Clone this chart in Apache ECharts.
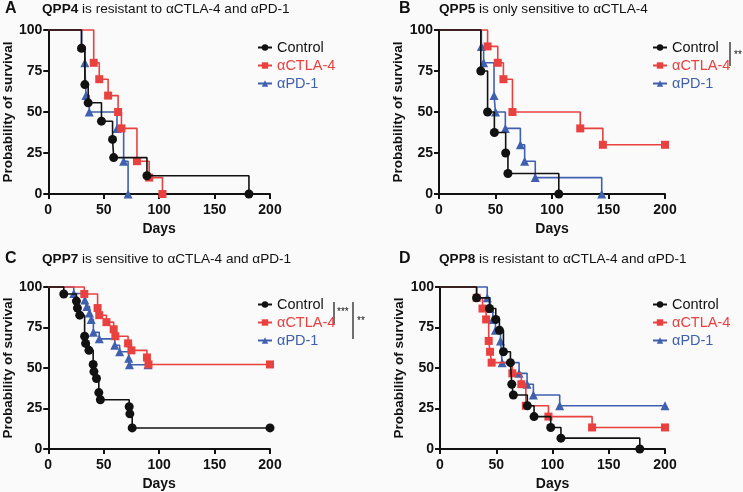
<!DOCTYPE html>
<html><head><meta charset="utf-8">
<script src="https://cdn.jsdelivr.net/npm/echarts@6/dist/echarts.min.js"></script>
<style>html,body{margin:0;padding:0;background:#fafafa}#c{width:743px;height:492px}</style>
</head><body><div id="c"></div>
<script>
// ---- data (days, survival %) ----
const xTicks = [0, 50, 100, 150, 200];
const yTicks = [0, 25, 50, 75, 100];
const groupNames = ['Control', 'αCTLA-4', 'αPD-1'];

// Panel A: QPP4
const aControlDays = [0, 30, 33, 36, 48, 58, 59, 89, 181];
const aControlSurv = [100, 88.9, 66.7, 55.6, 44.4, 33.3, 22.2, 11.1, 0];
const aCtlaDays = [0, 41, 46, 54, 63, 66, 80, 91, 103];
const aCtlaSurv = [100, 80, 70, 60, 50, 40, 20, 10, 0];
const aPd1Days = [0, 30, 33, 34, 37, 62, 68, 72];
const aPd1Surv = [100, 90, 80, 60, 50, 40, 20, 0];

// Panel B: QPP5
const bControlDays = [0, 37, 43, 49, 59, 61, 106];
const bControlSurv = [100, 75, 50, 37.5, 25, 12.5, 0];
const bCtlaDays = [0, 43, 52, 57, 65, 125, 145, 200];
const bCtlaSurv = [100, 90, 80, 70, 50, 40, 30, 30];
const bPd1Days = [0, 37.5, 39.5, 48.7, 50, 58.7, 72, 75.8, 85.2, 144];
const bPd1Surv = [100, 90, 80, 60, 50, 40, 30, 20, 10, 0];

// Panel C: QPP7
const cControlDays = [0, 14, 25.4, 26.3, 28.4, 32.8, 33.7, 36.7, 40.5, 41.2, 43.5, 45.6, 47, 73, 73.6, 75.7, 200];
const cControlSurv = [100, 95.7, 91.3, 87.0, 82.6, 69.6, 65.2, 60.9, 52.2, 47.8, 43.5, 34.8, 30.4, 26.1, 21.7, 13.0, 13.0];
const cCtlaDays = [0, 32.5, 44.5, 46, 52.5, 59, 60.5, 72, 75, 89, 90.4, 200];
const cCtlaSurv = [100, 95.7, 87.0, 82.6, 78.3, 73.9, 69.6, 65.2, 60.9, 56.5, 52.2, 52.2];
const cPd1Days = [0, 23, 33, 34.8, 37.2, 38.7, 40.7, 46, 60, 64.4, 72.6, 73.2, 90];
const cPd1Surv = [100, 96, 92, 88, 84, 80, 72, 68, 64, 60, 56, 52, 52];

// Panel D: QPP8
const dControlDays = [0, 32.5, 44, 49.6, 52.8, 56.4, 62.6, 63.8, 65.2, 77.6, 83.6, 98.4, 107.5, 177.6];
const dControlSurv = [100, 93.3, 86.7, 80, 73.3, 60, 53.3, 40, 33.3, 26.7, 20, 13.3, 6.7, 0];
const dCtlaDays = [0, 32.6, 37.8, 41, 43.3, 44.5, 45.9, 64.3, 72.3, 76.3, 96.4, 135.2, 200];
const dCtlaSurv = [100, 93.3, 86.7, 80, 66.7, 60, 53.3, 46.7, 40, 26.7, 20, 13.3, 13.3];
const dPd1Days = [0, 42, 44.5, 47, 49.3, 53.8, 55.2, 70.3, 77.4, 83, 106.4, 200];
const dPd1Surv = [100, 93.3, 86.7, 80, 73.3, 66.7, 53.3, 46.7, 40, 33.3, 26.7, 26.7];

const panels = [
  {letter: 'A', bold: 'QPP4', rest: ' is resistant to αCTLA-4 and αPD-1',
   series: [[aControlDays, aControlSurv], [aCtlaDays, aCtlaSurv], [aPd1Days, aPd1Surv]]},
  {letter: 'B', bold: 'QPP5', rest: ' is only sensitive to αCTLA-4',
   series: [[bControlDays, bControlSurv], [bCtlaDays, bCtlaSurv], [bPd1Days, bPd1Surv]]},
  {letter: 'C', bold: 'QPP7', rest: ' is sensitive to αCTLA-4 and αPD-1',
   series: [[cControlDays, cControlSurv], [cCtlaDays, cCtlaSurv], [cPd1Days, cPd1Surv]]},
  {letter: 'D', bold: 'QPP8', rest: ' is resistant to αCTLA-4 and αPD-1',
   series: [[dControlDays, dControlSurv], [dCtlaDays, dCtlaSurv], [dPd1Days, dPd1Surv]]}
];

// ---- layout / style ----
const FONT = 'Liberation Sans, Arial, Helvetica, sans-serif';
const colors = ['#111111', '#e8413f', '#3f5faf'];
const symbols = ['circle', 'rect', 'triangle'];
const symSizes = [9, 8, 9];
const grids = [
  {left: 44, top: 30, width: 226, height: 164},
  {left: 439, top: 30, width: 226, height: 164},
  {left: 44, top: 287, width: 226, height: 165},
  {left: 440, top: 287, width: 225, height: 164}
];
const titlePos = [[5, 42, 1], [399, 439, 1], [5, 42, 251], [399, 439, 251]];
const legendPos = [[257, 40], [652, 40], [257, 297], [652, 297]];

const option = {
  backgroundColor: '#fafafa',
  animation: false,
  textStyle: {fontFamily: FONT},
  title: [], legend: [], grid: grids, xAxis: [], yAxis: [], series: [],
  graphic: []
};

panels.forEach((p, i) => {
  const tp = titlePos[i];
  option.title.push({
    text: p.letter, left: tp[0], top: tp[2], padding: 0,
    textStyle: {fontFamily: FONT, fontSize: 16, fontWeight: 'bold', color: '#111'}
  });
  option.title.push({
    text: '{b|' + p.bold + '}{n|' + p.rest + '}', left: tp[1], top: tp[2] + 1, padding: 0,
    textStyle: {fontFamily: FONT, fontSize: 13.6, fontWeight: 'normal', color: '#111',
      rich: {b: {fontFamily: FONT, fontSize: 13.6, fontWeight: 'bold', color: '#111'},
             n: {fontFamily: FONT, fontSize: 13.6, fontWeight: 'normal', color: '#111'}}}
  });
  option.xAxis.push({
    type: 'value', gridIndex: i, min: xTicks[0], max: xTicks[xTicks.length - 1], interval: 50,
    name: 'Days', nameLocation: 'middle', nameGap: 28,
    nameTextStyle: {fontFamily: FONT, fontSize: 14, fontWeight: 'bold', color: '#111'},
    axisLine: {lineStyle: {color: '#111', width: 2}},
    axisTick: {show: true, length: 5, lineStyle: {color: '#111', width: 2}},
    axisLabel: {fontFamily: FONT, fontSize: 14, fontWeight: 'bold', color: '#111', margin: 9},
    splitLine: {show: false}
  });
  option.yAxis.push({
    type: 'value', gridIndex: i, min: yTicks[0], max: yTicks[yTicks.length - 1], interval: 25,
    name: 'Probability of survival', nameLocation: 'middle', nameGap: 27,
    nameTextStyle: {fontFamily: FONT, fontSize: 13.5, fontWeight: 'bold', color: '#111'},
    axisLine: {show: true, lineStyle: {color: '#111', width: 2}},
    axisTick: {show: true, length: 5, lineStyle: {color: '#111', width: 2}},
    axisLabel: {fontFamily: FONT, fontSize: 14, fontWeight: 'bold', color: '#111', margin: 6},
    splitLine: {show: false}
  });
  const order = [2, 1, 0];
  order.forEach(k => {
    const [days, surv] = p.series[k];
    const data = days.map((d, j) => j === 0 ? {value: [d, surv[j]], symbol: 'none'} : [d, surv[j]]);
    option.series.push({
      type: 'line', name: groupNames[k], xAxisIndex: i, yAxisIndex: i,
      step: 'end', data: data, symbol: symbols[k], symbolSize: symSizes[k],
      showAllSymbol: true, clip: false,
      lineStyle: {color: colors[k], width: 1.6},
      itemStyle: {color: colors[k], borderWidth: 0},
      emphasis: {disabled: true}, z: 3 + (2 - k)
    });
  });
  const lp = legendPos[i];
  option.legend.push({
    orient: 'vertical', left: lp[0], top: lp[1], itemGap: 3, itemWidth: 14, itemHeight: 8,
    selectedMode: false, padding: 0,
    textStyle: {fontFamily: FONT, fontSize: 14.5},
    data: groupNames.map((n, k) => ({name: n, textStyle: {color: colors[k], fontFamily: FONT, fontSize: 14.5}}))
  });
});

// significance annotations
const bar = (x, y1, y2) => ({type: 'line', shape: {x1: x, y1: y1, x2: x, y2: y2}, style: {stroke: '#111', lineWidth: 1.2}});
const star = (x, y, t) => ({type: 'text', x: x, y: y, style: {text: t, fill: '#111', font: '10px ' + FONT, textVerticalAlign: 'middle'}});
option.graphic = [
  bar(730, 42, 66), star(734, 55, '**'),
  bar(334, 302, 324), star(337, 312, '***'),
  bar(353, 302, 339), star(357, 321, '**')
];

const chart = echarts.init(document.getElementById('c'));
chart.setOption(option);
</script></body></html>
